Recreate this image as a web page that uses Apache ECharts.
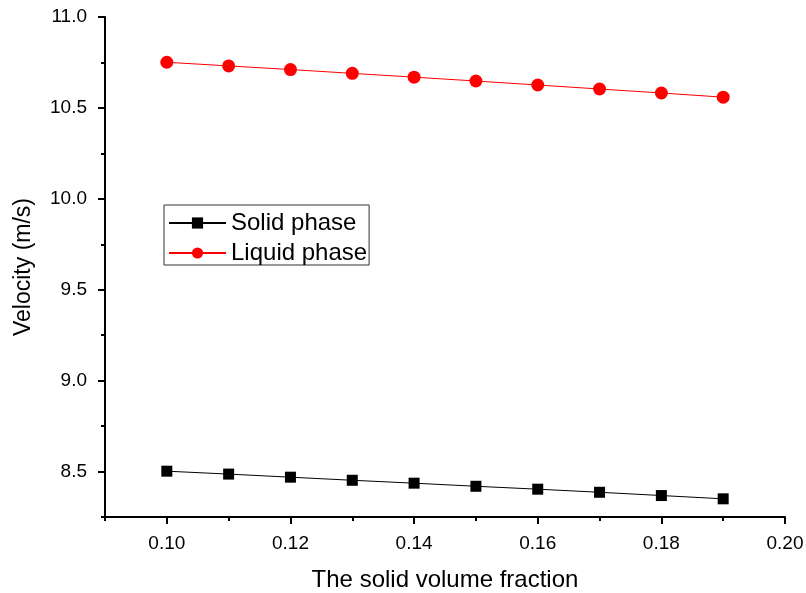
<!DOCTYPE html>
<html>
<head>
    <meta charset="utf-8">
    <title>Velocity vs solid volume fraction</title>
    <script src="https://cdn.jsdelivr.net/npm/echarts@6/dist/echarts.min.js"></script>
    <style>
        html, body { margin: 0; padding: 0; background: #fff; }
        #chart { width: 806px; height: 593px; }
    </style>
</head>
<body>
<div id="chart"></div>
<script>
// data
var fraction = [0.10, 0.11, 0.12, 0.13, 0.14, 0.15, 0.16, 0.17, 0.18, 0.19];
var solidPhase = [8.502, 8.486, 8.469, 8.452, 8.436, 8.419, 8.403, 8.386, 8.368, 8.350];
var liquidPhase = [10.751, 10.731, 10.711, 10.690, 10.669, 10.648, 10.626, 10.604, 10.582, 10.559];

// tick positions
var xMajor = [0.10, 0.12, 0.14, 0.16, 0.18, 0.20];
var xMinor = [0.09, 0.11, 0.13, 0.15, 0.17, 0.19];
var yMajor = [8.5, 9.0, 9.5, 10.0, 10.5, 11.0];
var yMinor = [8.25, 8.75, 9.25, 9.75, 10.25, 10.75];

function pairs(xs, ys) {
    var out = [];
    for (var i = 0; i < xs.length; i++) out.push([xs[i], ys[i]]);
    return out;
}

var font = 'Liberation Sans, Arial, sans-serif';

var chart = echarts.init(document.getElementById('chart'), null, { renderer: 'canvas' });

var option = {
    animation: false,
    backgroundColor: '#fff',
    grid: { left: 105, right: 21, top: 17, bottom: 76, outerBoundsMode: 'none', containLabel: false },
    legend: {
        left: 164,
        top: 205,
        orient: 'vertical',
        padding: [6, 2, 0, 4],
        borderColor: '#333',
        borderWidth: 1,
        itemWidth: 57,
        itemHeight: 14,
        itemGap: 6,
        textStyle: { fontFamily: font, fontSize: 24, color: '#000', lineHeight: 24 },
        data: ['Solid phase', 'Liquid phase']
    },
    xAxis: [{
        type: 'value',
        min: 0.09,
        max: 0.20,
        name: 'The solid volume fraction',
        nameLocation: 'middle',
        nameGap: 51,
        nameTextStyle: { fontFamily: font, fontSize: 24, color: '#000' },
        axisLine: { lineStyle: { color: '#000', width: 2 } },
        axisTick: { customValues: xMajor, length: 7, lineStyle: { color: '#000', width: 2 } },
        axisLabel: {
            customValues: xMajor,
            margin: 17,
            fontFamily: font, fontSize: 19, color: '#000',
            formatter: function (v) { return v.toFixed(2); }
        },
        splitLine: { show: false }
    }, {
        type: 'value',
        min: 0.09,
        max: 0.20,
        position: 'bottom',
        axisLine: { show: false },
        axisTick: { customValues: xMinor, length: 4, lineStyle: { color: '#000', width: 2 } },
        axisLabel: { show: false },
        splitLine: { show: false }
    }],
    yAxis: [{
        type: 'value',
        min: 8.25,
        max: 11.0,
        name: 'Velocity (m/s)',
        nameLocation: 'middle',
        nameGap: 70,
        nameTextStyle: { fontFamily: font, fontSize: 23, color: '#000' },
        axisLine: { show: true, lineStyle: { color: '#000', width: 2 } },
        axisTick: { show: true, customValues: yMajor, length: 7, lineStyle: { color: '#000', width: 2 } },
        axisLabel: {
            customValues: yMajor,
            margin: 18,
            fontFamily: font, fontSize: 19, color: '#000',
            formatter: function (v) { return v.toFixed(1); }
        },
        splitLine: { show: false }
    }, {
        type: 'value',
        min: 8.25,
        max: 11.0,
        position: 'left',
        axisLine: { show: false },
        axisTick: { show: true, customValues: yMinor, length: 4, lineStyle: { color: '#000', width: 2 } },
        axisLabel: { show: false },
        splitLine: { show: false }
    }],
    series: [{
        name: 'Solid phase',
        type: 'line',
        data: pairs(fraction, solidPhase),
        symbol: 'rect',
        symbolSize: 11,
        itemStyle: { color: '#000' },
        lineStyle: { color: '#000', width: 1 }
    }, {
        name: 'Liquid phase',
        type: 'line',
        data: pairs(fraction, liquidPhase),
        symbol: 'circle',
        symbolSize: 13,
        itemStyle: { color: '#ff0000' },
        lineStyle: { color: '#ff0000', width: 1 }
    }]
};

chart.setOption(option);
</script>
</body>
</html>
